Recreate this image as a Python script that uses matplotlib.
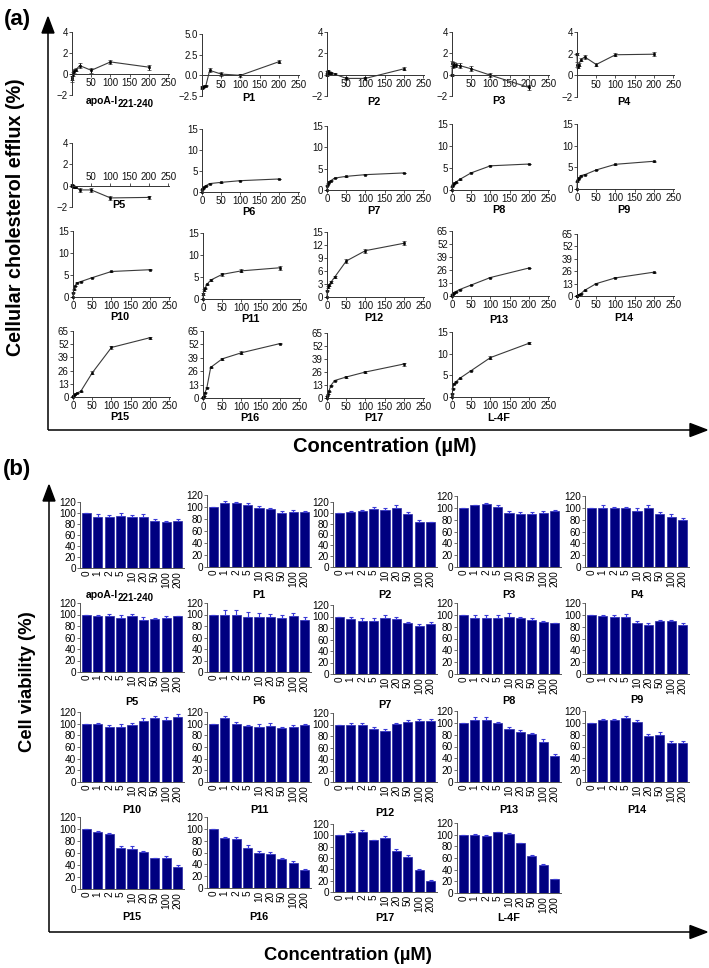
import numpy as np
import matplotlib.pyplot as plt
from matplotlib.patches import Polygon

plt.rcParams['font.family'] = ['Liberation Sans', 'DejaVu Sans']

W, H = 709, 968

# ==================================================
# Daten
# ==================================================

conc = [0, 1, 2, 5, 10, 20, 50, 100, 200]
conc_labels = ["0", "1", "2", "5", "10", "20", "50", "100", "200"]

panel_names = ["apoA-I", "P1", "P2", "P3", "P4", "P5", "P6", "P7", "P8", "P9",
               "P10", "P11", "P12", "P13", "P14", "P15", "P16", "P17", "L-4F"]

# (a) cholesterol efflux (%)
eff_apoA = [-0.5, -0.3, 0.0, 0.3, 0.4, 0.8, 0.35, 1.15, 0.65]
eff_P1 = [-1.5, -1.45, -1.4, -1.35, -1.25, 0.6, 0.15, 0.0, 1.65]
eff_P2 = [0.0, 0.25, 0.3, 0.2, 0.15, 0.05, -0.35, -0.35, 0.55]
eff_P3 = [0.0, 1.05, 0.8, 0.95, 0.9, 0.85, 0.55, -0.05, -1.2]
eff_P4 = [2.0, 1.0, 0.8, 1.0, 1.45, 1.7, 1.0, 1.9, 1.95]
eff_P5 = [0.0, 0.05, -0.05, -0.1, -0.15, -0.4, -0.4, -1.15, -1.1]
eff_P6 = [0.0, 0.6, 0.9, 1.2, 1.5, 2.0, 2.3, 2.7, 3.1]
eff_P7 = [0.0, 1.0, 1.5, 1.9, 2.2, 2.8, 3.2, 3.6, 4.0]
eff_P8 = [0.0, 0.8, 1.2, 1.5, 1.8, 2.4, 3.9, 5.5, 5.9]
eff_P9 = [0.0, 1.8, 2.2, 2.6, 3.1, 3.3, 4.4, 5.7, 6.4]
eff_P10 = [0.0, 1.0, 1.8, 2.5, 3.2, 3.5, 4.4, 5.8, 6.2]
eff_P11 = [0.0, 1.2, 2.0, 2.4, 3.3, 4.3, 5.6, 6.4, 7.1]
eff_P12 = [0.0, 1.5, 2.3, 2.8, 3.4, 4.6, 8.3, 10.7, 12.4]
eff_P13 = [0.0, 1.5, 2.5, 3.5, 4.5, 6.5, 11.0, 18.5, 28.0]
eff_P14 = [0.0, 0.3, 0.8, 1.5, 2.5, 6.0, 13.0, 19.0, 25.0]
eff_P15 = [0.0, 1.0, 2.0, 3.0, 4.0, 5.5, 23.8, 48.8, 58.4]
eff_P16 = [0.0, 1.0, 2.0, 5.0, 9.9, 29.7, 38.0, 43.9, 52.8]
eff_P17 = [0.0, 2.0, 4.0, 7.0, 12.5, 17.5, 21.0, 26.0, 34.0]
eff_L4F = [0.0, 0.8, 1.9, 3.1, 3.5, 4.3, 6.1, 9.1, 12.4]

err_eff_apoA = [0.3, 0.3, 0.2, 0.2, 0.15, 0.25, 0.25, 0.2, 0.25]
err_eff_P1 = [0.1, 0.1, 0.1, 0.1, 0.1, 0.25, 0.2, 0.15, 0.2]
err_eff_P2 = [0.1, 0.1, 0.1, 0.1, 0.1, 0.1, 0.15, 0.15, 0.15]
err_eff_P3 = [0.1, 0.2, 0.2, 0.2, 0.2, 0.2, 0.25, 0.2, 0.25]
err_eff_P4 = [0.1, 0.2, 0.15, 0.15, 0.15, 0.2, 0.15, 0.15, 0.2]
err_eff_P5 = [0.1, 0.1, 0.1, 0.1, 0.1, 0.15, 0.15, 0.15, 0.15]
err_eff_P6 = [0.05, 0.1, 0.1, 0.1, 0.1, 0.1, 0.1, 0.1, 0.1]
err_eff_P7 = [0.05, 0.1, 0.1, 0.1, 0.1, 0.1, 0.1, 0.1, 0.1]
err_eff_P8 = [0.05, 0.1, 0.1, 0.1, 0.1, 0.1, 0.1, 0.1, 0.1]
err_eff_P9 = [0.05, 0.1, 0.1, 0.1, 0.1, 0.1, 0.1, 0.1, 0.1]
err_eff_P10 = [0.05, 0.1, 0.1, 0.1, 0.1, 0.1, 0.1, 0.1, 0.1]
err_eff_P11 = [0.1, 0.2, 0.2, 0.2, 0.2, 0.3, 0.35, 0.35, 0.4]
err_eff_P12 = [0.1, 0.2, 0.2, 0.2, 0.2, 0.2, 0.4, 0.45, 0.45]
err_eff_P13 = [0.2, 0.3, 0.3, 0.3, 0.3, 0.3, 0.4, 0.4, 0.4]
err_eff_P14 = [0.2, 0.3, 0.3, 0.3, 0.3, 0.3, 0.5, 0.5, 0.5]
err_eff_P15 = [0.3, 0.3, 0.3, 0.3, 0.3, 0.5, 1.5, 1.5, 0.8]
err_eff_P16 = [0.3, 0.3, 0.3, 0.5, 0.5, 0.8, 0.8, 1.5, 0.8]
err_eff_P17 = [0.3, 0.3, 0.3, 0.5, 0.5, 0.8, 1.0, 1.0, 1.5]
err_eff_L4F = [0.1, 0.1, 0.1, 0.1, 0.1, 0.1, 0.2, 0.3, 0.2]

# (b) cell viability (%)
via_apoA = [100, 93, 93, 94, 92, 92, 86, 84, 85]
via_P1 = [100, 107, 106, 104, 99, 96, 90, 91, 91]
via_P2 = [100, 101, 103, 108, 106, 109, 97, 84, 83]
via_P3 = [100, 104, 107, 101, 92, 89, 90, 91, 94]
via_P4 = [100, 100, 99, 99, 95, 100, 90, 85, 79]
via_P5 = [100, 97, 97, 94, 98, 91, 93, 94, 97]
via_P6 = [100, 100, 100, 95, 95, 95, 94, 98, 90]
via_P7 = [100, 95, 93, 93, 98, 96, 88, 84, 87]
via_P8 = [100, 95, 95, 95, 97, 94, 92, 88, 86]
via_P9 = [100, 98, 96, 96, 86, 83, 89, 90, 82]
via_P10 = [100, 99, 95, 95, 98, 105, 110, 107, 112]
via_P11 = [100, 109, 100, 96, 95, 96, 92, 95, 97]
via_P12 = [100, 99, 99, 92, 88, 101, 104, 106, 106]
via_P13 = [100, 105, 105, 99, 89, 84, 81, 68, 44]
via_P14 = [100, 104, 105, 108, 102, 78, 79, 66, 66]
via_P15 = [100, 95, 91, 68, 67, 61, 51, 52, 36]
via_P16 = [100, 84, 82, 68, 60, 58, 49, 43, 30]
via_P17 = [100, 104, 106, 91, 95, 72, 62, 38, 20]
via_L4F = [100, 99, 98, 104, 102, 85, 64, 48, 24]

err_via_apoA = [0, 5, 4, 6, 5, 6, 3, 1, 5]
err_via_P1 = [0, 3, 3, 2, 2, 3, 3, 4, 2]
err_via_P2 = [0, 3, 3, 2, 3, 5, 4, 2, 1]
err_via_P3 = [0, 1, 2, 4, 3, 4, 3, 3, 2]
err_via_P4 = [0, 4, 3, 3, 5, 5, 3, 4, 3]
err_via_P5 = [0, 2, 4, 5, 3, 4, 1, 3, 1]
err_via_P6 = [0, 8, 8, 9, 7, 6, 5, 5, 5]
err_via_P7 = [0, 5, 5, 5, 5, 4, 3, 3, 3]
err_via_P8 = [0, 4, 4, 4, 6, 3, 3, 1, 1]
err_via_P9 = [0, 1, 3, 6, 3, 4, 3, 2, 5]
err_via_P10 = [0, 2, 3, 4, 4, 5, 4, 4, 5]
err_via_P11 = [0, 5, 3, 1, 4, 6, 3, 3, 3]
err_via_P12 = [0, 3, 4, 3, 5, 1, 3, 4, 4]
err_via_P13 = [0, 5, 5, 3, 4, 4, 1, 5, 3]
err_via_P14 = [0, 3, 2, 3, 3, 3, 5, 3, 4]
err_via_P15 = [0, 2, 3, 3, 5, 2, 1, 3, 4]
err_via_P16 = [0, 3, 5, 4, 3, 3, 2, 3, 2]
err_via_P17 = [0, 4, 4, 1, 3, 4, 3, 3, 1]
err_via_L4F = [0, 2, 2, 1, 1, 1, 1, 1, 0]

efflux = [eff_apoA, eff_P1, eff_P2, eff_P3, eff_P4, eff_P5, eff_P6, eff_P7, eff_P8, eff_P9,
          eff_P10, eff_P11, eff_P12, eff_P13, eff_P14, eff_P15, eff_P16, eff_P17, eff_L4F]
efflux_err = [err_eff_apoA, err_eff_P1, err_eff_P2, err_eff_P3, err_eff_P4, err_eff_P5,
              err_eff_P6, err_eff_P7, err_eff_P8, err_eff_P9, err_eff_P10, err_eff_P11,
              err_eff_P12, err_eff_P13, err_eff_P14, err_eff_P15, err_eff_P16, err_eff_P17,
              err_eff_L4F]
viability = [via_apoA, via_P1, via_P2, via_P3, via_P4, via_P5, via_P6, via_P7, via_P8, via_P9,
             via_P10, via_P11, via_P12, via_P13, via_P14, via_P15, via_P16, via_P17, via_L4F]
viability_err = [err_via_apoA, err_via_P1, err_via_P2, err_via_P3, err_via_P4, err_via_P5,
                 err_via_P6, err_via_P7, err_via_P8, err_via_P9, err_via_P10, err_via_P11,
                 err_via_P12, err_via_P13, err_via_P14, err_via_P15, err_via_P16, err_via_P17,
                 err_via_L4F]

# ==================================================
# Layout (Pixel: links, oben, unten, Titel-y)
# ==================================================

line_pos = [
    (72, 32, 95, 101), (202, 34, 96, 98), (327, 32, 96, 102), (452, 32, 96, 101), (577, 32, 97, 102),
    (72, 143, 207, 205), (202, 129, 192, 212), (327, 126, 190, 211), (452, 124, 190, 210), (577, 124, 189, 210),
    (73, 231, 297, 317), (203, 233, 299, 319), (327, 232, 297, 318), (452, 231, 296, 320), (577, 234, 296, 318),
    (73, 331, 397, 417), (203, 331, 398, 418), (327, 333, 398, 418), (452, 332, 397, 418),
]

# ylim, yticks, tick labels
Y_NEG = ((-2, 4), [-2, 0, 2, 4], None)
Y_P1 = ((-2.5, 5), [-2.5, 0, 2.5, 5], ["\u22122.5", "0.0", "2.5", "5.0"])
Y_15 = ((0, 15), [0, 5, 10, 15], None)
Y_12 = ((0, 15), [0, 3, 6, 9, 12, 15], None)
Y_65 = ((0, 65), [0, 13, 26, 39, 52, 65], None)
line_y = [Y_NEG, Y_P1, Y_NEG, Y_NEG, Y_NEG,
          Y_NEG, Y_15, Y_15, Y_15, Y_15,
          Y_15, Y_15, Y_12, Y_65, Y_65,
          Y_65, Y_65, Y_65, Y_15]

bar_pos = [
    (80, 502, 568, 595), (207, 495, 567, 595), (333, 502, 567, 595), (457, 496, 567, 595), (585, 496, 567, 595),
    (80, 603, 672, 702), (207, 603, 672, 701), (333, 605, 674, 705), (457, 603, 674, 701), (585, 603, 674, 700),
    (80, 712, 782, 810), (207, 712, 782, 810), (333, 713, 782, 813), (457, 711, 782, 810), (585, 711, 782, 810),
    (80, 817, 889, 917), (207, 817, 888, 917), (333, 824, 892, 918), (457, 823, 893, 918),
]

fig = plt.figure(figsize=(W / 100, H / 100), dpi=100)

deco = fig.add_axes([0, 0, 1, 1])
deco.set_xlim(0, W)
deco.set_ylim(H, 0)
deco.axis("off")


def px_axes(left, top, right, bottom):
    return fig.add_axes([left / W, 1 - bottom / H, (right - left) / W, (bottom - top) / H])


def panel_title(name, xc, y):
    if name == "apoA-I":
        deco.text(118, y, "apoA-I", ha="right", va="center", fontsize=7.5, fontweight="bold")
        deco.text(118, y + 3, "221-240", ha="left", va="center", fontsize=7, fontweight="bold")
    else:
        deco.text(xc, y, name, ha="center", va="center", fontsize=7.8, fontweight="bold")


AX_COL = "#333333"

# ==================================================
# (a) Efflux-Kurven
# ==================================================

for i, name in enumerate(panel_names):
    left, top, bottom, ty = line_pos[i]
    (ylo, yhi), yt, ytl = line_y[i]
    ax = px_axes(left, top, left + 97, bottom)
    ax.patch.set_visible(False)
    ax.errorbar(conc, efflux[i], yerr=efflux_err[i], color="#3a3a3a", lw=0.8,
                marker="s", ms=1.7, mfc="black", mec="black", mew=0.4,
                ecolor="black", elinewidth=0.7, capsize=1.4, capthick=0.7)
    for art in ax.get_children():
        try:
            art.set_clip_on(False)
        except Exception:
            pass
    ax.set_xlim(0, 252)
    ax.set_ylim(ylo, yhi)
    ax.set_yticks(yt)
    if ytl:
        ax.set_yticklabels(ytl)
    if ylo < 0:
        ax.set_xticks([50, 100, 150, 200, 250])
    else:
        ax.set_xticks([0, 50, 100, 150, 200, 250])
    ax.spines["right"].set_visible(False)
    if name == "P5":
        ax.spines["bottom"].set_visible(False)
        ax.spines["top"].set_position(("data", 0))
        ax.xaxis.tick_top()
    else:
        ax.spines["top"].set_visible(False)
        ax.spines["bottom"].set_position(("data", 0))
    for s in ax.spines.values():
        s.set_linewidth(0.7)
        s.set_color(AX_COL)
    ax.tick_params(labelsize=7, length=2, width=0.6, pad=1, color=AX_COL, labelcolor="#111111")
    panel_title(name, left + 47, ty)

# ==================================================
# (b) Viabilitaet
# ==================================================

xb = np.arange(len(conc))
for i, name in enumerate(panel_names):
    left, top, bottom, ty = bar_pos[i]
    ax = px_axes(left, top, left + 104, bottom)
    ax.patch.set_visible(False)
    ax.bar(xb, viability[i], width=0.8, color="#000080", edgecolor="#2828a8", lw=0.5,
           yerr=[np.zeros(len(conc)), viability_err[i]],
           error_kw=dict(ecolor="#3b3bd6", elinewidth=0.8, capsize=1.6, capthick=0.8))
    ax.set_xlim(-0.55, 8.55)
    ax.set_ylim(0, 120)
    ax.set_yticks(range(0, 121, 20))
    ax.set_xticks(xb)
    ax.set_xticklabels(conc_labels, rotation=90)
    ax.spines["top"].set_visible(False)
    ax.spines["right"].set_visible(False)
    for s in ax.spines.values():
        s.set_linewidth(0.7)
        s.set_color("#555555")
    ax.tick_params(axis="y", labelsize=7.2, length=2, width=0.6, pad=1, color="#555555")
    ax.tick_params(axis="x", labelsize=7.2, length=0, pad=2)
    panel_title(name, left + 52, ty)

# ==================================================
# Rahmen, Pfeile, Beschriftungen
# ==================================================

def frame(x0, y_top, y_bot, tip_top):
    deco.plot([x0, x0], [y_bot, y_top], color="black", lw=1.1, solid_capstyle="butt")
    deco.plot([x0, 692], [y_bot, y_bot], color="black", lw=1.1, solid_capstyle="butt")
    deco.add_patch(Polygon([[x0, tip_top], [x0 - 6, y_top], [x0 + 6, y_top]], closed=True, color="black"))
    deco.add_patch(Polygon([[707, y_bot], [690, y_bot - 6.5], [690, y_bot + 6.5]], closed=True, color="black"))


frame(48, 33, 430, 17)
frame(49, 501, 932, 485)

deco.text(4, 20, "(a)", ha="left", va="center", fontsize=16, fontweight="bold")
deco.text(3, 470, "(b)", ha="left", va="center", fontsize=16, fontweight="bold")

deco.text(16, 217, "Cellular cholesterol efflux (%)", rotation=90, ha="center", va="center",
          fontsize=14.2, fontweight="bold")
deco.text(28, 682, "Cell viability (%)", rotation=90, ha="center", va="center",
          fontsize=13.3, fontweight="bold")

deco.text(385, 447, "Concentration (\u00b5M)", ha="center", va="center", fontsize=14.5, fontweight="bold")
deco.text(348, 956, "Concentration (\u00b5M)", ha="center", va="center", fontsize=13.2, fontweight="bold")

fig.savefig("out.png", dpi=100)
